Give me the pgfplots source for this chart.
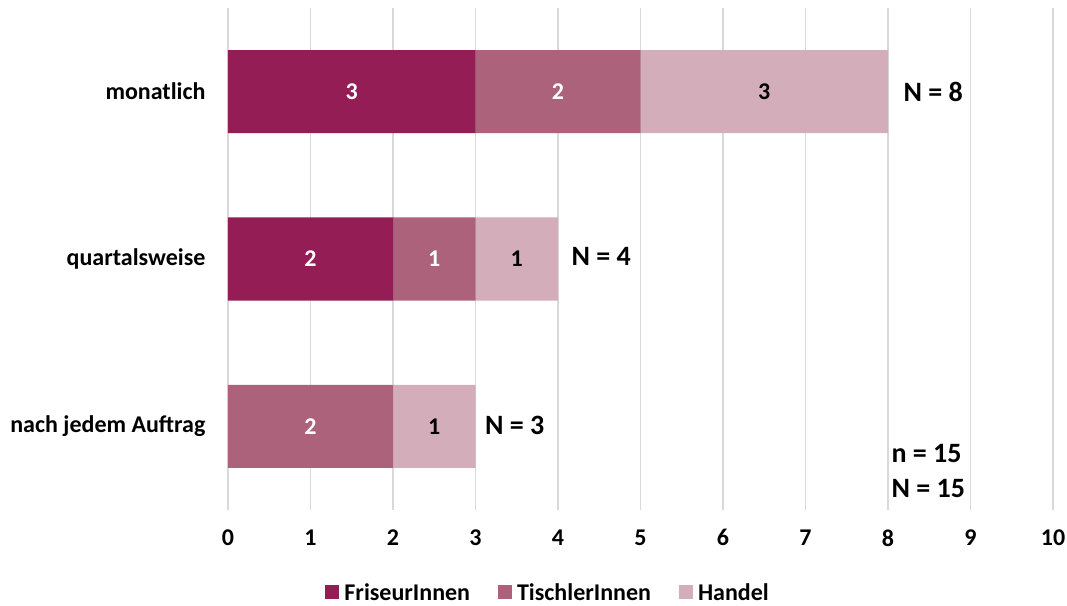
\documentclass[border=0pt]{standalone}
\usepackage{fontspec}
\setmainfont{Carlito}
\usepackage{pgfplots}
\pgfplotsset{compat=1.18}

\definecolor{friseur}{HTML}{931D54}
\definecolor{tischler}{HTML}{AD627C}
\definecolor{handel}{HTML}{D4ADBA}
\definecolor{gridgray}{HTML}{D9D9D9}

\pgfplotsset{
  frame/.style={
    at={(0pt,0pt)}, anchor=south west,
    scale only axis,
    width=825pt, height=502pt,
    xmin=0, xmax=10,
    ymin=-0.5, ymax=2.5,
  },
}

\begin{document}
\begin{tikzpicture}[font=\bfseries]
\useasboundingbox (-228pt,-95pt) rectangle (839pt,510pt);
% stacked bars
\begin{axis}[
  frame,
  xbar stacked,
  bar width=83pt,
  xtick={0,1,...,10},
  ytick={0,1,2},
  yticklabels={nach jedem Auftrag, quartalsweise, monatlich},
  xmajorgrids,
  major grid style={gridgray, line width=1.3pt},
  axis line style={draw=none},
  tick style={draw=none},
  /pgf/number format/assume math mode=true,
  ticklabel style={font=\fontsize{24}{28}\selectfont\bfseries},
  xticklabel style={yshift=-16pt},
  yticklabel style={xshift=-19pt},
  legend style={at={(0.388,-0.164)}, anchor=center, draw=none,
    legend columns=3, font=\fontsize{24}{28}\selectfont\bfseries,
    inner sep=1pt,
    /tikz/every even column/.append style={column sep=26pt}},
  legend image code/.code={\fill[#1] (0pt,-7pt) rectangle (14pt,7pt); \path (17pt,0pt);},
]
\addplot[fill=friseur, draw=none] coordinates {(0,0) (2,1) (3,2)};
\addplot[fill=tischler, draw=none] coordinates {(2,0) (1,1) (2,2)};
\addplot[fill=handel, draw=none] coordinates {(1,0) (1,1) (3,2)};
\legend{FriseurInnen, TischlerInnen, Handel}
\end{axis}

% segment values, centred in each segment, and totals
\begin{axis}[
  frame,
  hide axis,
  point meta=explicit symbolic,
  nodes near coords,
  every node near coord/.style={anchor=center, font=\fontsize{24}{28}\selectfont\bfseries},
]
\addplot[draw=none, mark=none, every node near coord/.append style={text=white}]
  coordinates {(1.5,2)[3] (1,1)[2]};
\addplot[draw=none, mark=none, every node near coord/.append style={text=white}]
  coordinates {(4,2)[2] (2.5,1)[1] (1,0)[2]};
\addplot[draw=none, mark=none, every node near coord/.append style={text=black}]
  coordinates {(6.5,2)[3] (3.5,1)[1] (2.5,0)[1]};

\begin{scope}[every node/.style={font=\fontsize{28}{32}\selectfont\bfseries, anchor=west}]
\node at (axis cs:8,2) [xshift=12pt] {N = 8};
\node at (axis cs:4,1) [xshift=10pt, yshift=3pt] {N = 4};
\node at (axis cs:3,0) [xshift=6pt, yshift=1pt] {N = 3};
\node at (axis cs:8.0,-0.16) {n = 15};
\node at (axis cs:8.0,-0.37) {N = 15};
\end{scope}
\end{axis}
\end{tikzpicture}
\end{document}
